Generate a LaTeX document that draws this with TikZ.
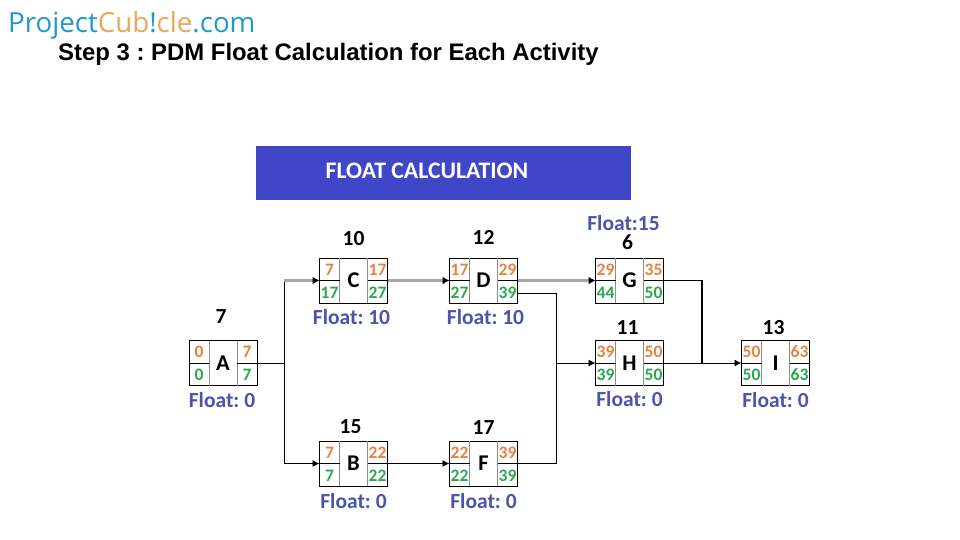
\documentclass[tikz,border=0pt]{standalone}
\usepackage{fontspec}
\setmainfont{Carlito}
\newfontfamily\titlefont{Liberation Sans}
\newfontfamily\logofont{Open Sans}
\usepackage{tikz}
\usetikzlibrary{arrows.meta,positioning}
\definecolor{bannerblue}{HTML}{3F47C8}
\definecolor{floatblue}{HTML}{4A53AE}
\definecolor{earlyorange}{HTML}{E8813C}
\definecolor{lategreen}{HTML}{2BA650}
\definecolor{logoblue}{HTML}{1F9AC8}
\definecolor{logoorange}{HTML}{E8A858}
\definecolor{cellgrey}{HTML}{8C8C8C}
\definecolor{critgrey}{HTML}{A6A6A6}
\frenchspacing

\begin{document}
\begin{tikzpicture}[x=1pt, y=-1pt, node distance=62pt,
    act/.style={rectangle, draw, line width=0.8pt, minimum width=68pt, minimum height=45pt, inner sep=0pt, outer sep=0pt, font=\fontsize{22.5}{22}\selectfont\bfseries},
    dur/.style={font=\fontsize{21.5}{21}\selectfont\bfseries, inner sep=0pt},
    flt/.style={font=\fontsize{21.5}{21}\selectfont\bfseries, text=floatblue, inner sep=0pt},
    cell/.style={font=\fontsize{17.5}{18}\selectfont\bfseries, inner sep=0pt},
    ar/.style={line width=0.8pt, -{Latex[length=7pt,width=7pt]}},
    arcrit/.style={line width=3.2pt, critgrey, -{Latex[length=7pt,width=8pt,black]}},
    wire/.style={line width=0.8pt},
    wirethick/.style={line width=1.6pt}]
    \useasboundingbox (0,0) rectangle (960,540);

    \node [font=\logofont\fontsize{27.7}{28}\selectfont, anchor=west, inner sep=0pt] (logo) at (8,25) {\textcolor{logoblue}{Project}\textcolor{logoorange}{Cub}\textcolor{logoblue}{!}\textcolor{logoorange}{cle}\textcolor{logoblue}{.com}};
    \node [font=\titlefont\bfseries\fontsize{23.9}{24}\selectfont, anchor=west, inner sep=0pt] (heading) at (58,54) {Step 3 : PDM Float Calculation for Each Activity};
    \node [fill=bannerblue, minimum width=375pt, minimum height=54pt, inner sep=0pt] (banner) at (443.5,173) {};
    \node [font=\fontsize{23.7}{24}\selectfont\bfseries, text=white, inner sep=0pt] (bannertext) at (427,171) {FLOAT CALCULATION};

    % activities
    \node [act] (A) at (223,363) {A};
    \node [act] (C) at (353.5,280.5) {C};
    \node [act, right=of C] (D) {D};
    \node [act, right=78pt of D] (G) {G};
    \node [act] (B) at (353.5,463.5) {B};
    \node [act, right=of B] (F) {F};
    \node [act] (H) at (629.5,363) {H};
    \node [act, right=78pt of H] (I) {I};

    % cells of each box: early start/finish on top, late start/finish below
    \foreach \a/\es/\ef/\ls/\lf/\w in {A/0/7/0/7/0.8pt, C/7/17/17/27/1.4pt, D/17/29/27/39/1.4pt, G/29/35/44/50/1.4pt, H/39/50/39/50/0.8pt, I/50/63/50/63/0.8pt, B/7/22/7/22/0.8pt, F/22/39/22/39/0.8pt} {
        \draw [cellgrey, line width=0.9pt] ([xshift=20pt]\a.north west) -- ([xshift=20pt]\a.south west);
        \draw [cellgrey, line width=0.9pt] ([xshift=-20pt]\a.north east) -- ([xshift=-20pt]\a.south east);
        \draw [line width=\w] (\a.west) -- ++(20pt,0);
        \draw [line width=\w] (\a.east) -- ++(-20pt,0);
        \node [cell, text=earlyorange] (\a-es) at ([xshift=10pt,yshift=11pt]\a.west) {\es};
        \node [cell, text=earlyorange] (\a-ef) at ([xshift=-10pt,yshift=11pt]\a.east) {\ef};
        \node [cell, text=lategreen] (\a-ls) at ([xshift=10pt,yshift=-12pt]\a.west) {\ls};
        \node [cell, text=lategreen] (\a-lf) at ([xshift=-10pt,yshift=-12pt]\a.east) {\lf};
    }

    % durations
    \node [dur, above=17pt of A, xshift=-2pt] (A-dur) {7};
    \node [dur, above=12pt of C] (C-dur) {10};
    \node [dur, above=13pt of D] (D-dur) {12};
    \node [dur, above=8pt of G, xshift=-2pt] (G-dur) {6};
    \node [dur, above=6pt of H, xshift=-2pt] (H-dur) {11};
    \node [dur, above=6pt of I, xshift=-2pt] (I-dur) {13};
    \node [dur, above=7pt of B, xshift=-3pt] (B-dur) {15};
    \node [dur, above=6pt of F] (F-dur) {17};

    % floats
    \node [flt, below=7pt of A, xshift=-1pt] (A-flt) {Float: 0};
    \node [flt, below=6pt of C, xshift=-2pt] (C-flt) {Float: 10};
    \node [flt, below=6pt of D, xshift=2pt] (D-flt) {Float: 10};
    \node [flt, above=4pt of G-dur, xshift=-4pt] (G-flt) {Float:15};
    \node [flt, below=6pt of H] (H-flt) {Float: 0};
    \node [flt, below=7pt of I] (I-flt) {Float: 0};
    \node [flt, below=7pt of B] (B-flt) {Float: 0};
    \node [flt, below=7pt of F] (F-flt) {Float: 0};

    % connectors
    \coordinate (split) at (284,363);
    \coordinate (merge) at (556,363);
    \coordinate (join) at (702,363);
    \draw [wire] (A.east) -- (split);
    \draw [wire] (split |- C.west) -- (split |- B.west);
    \draw [arcrit] (split |- C.west) -- (C.west);
    \draw [ar] (split |- B.west) -- (B.west);
    \draw [arcrit] (C.east) -- (D.west);
    \draw [ar] (B.east) -- (F.west);
    \draw [arcrit] (D.east) -- (G.west);
    \draw [wire] ([yshift=-13pt]D.east) -| (merge);
    \draw [wire] (F.east) -| (merge);
    \draw [ar] (merge) -- (H.west);
    \draw [wirethick] (G.east) -| (join);
    \draw [ar] (H.east) -- (I.west);
\end{tikzpicture}
\end{document}
